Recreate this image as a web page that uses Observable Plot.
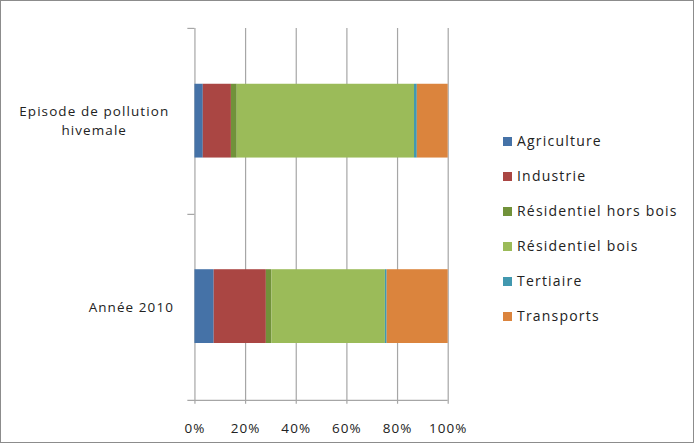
<!DOCTYPE html>
<html><head><meta charset="utf-8">
<script src="https://cdn.jsdelivr.net/npm/d3@7"></script>
<script src="https://cdn.jsdelivr.net/npm/@observablehq/plot@0.6"></script>
<style>
html,body{margin:0;padding:0;background:#fff;}
#wrap{position:relative;width:694px;height:443px;box-sizing:border-box;border:1px solid #8c8c8c;overflow:hidden;font-family:"Open Sans",sans-serif;}
#wrap svg{position:absolute;left:-1px;top:-1px;}
#legend{position:absolute;left:502px;top:130px;font-size:14px;color:#222;}
#legend .it{height:35px;display:flex;align-items:flex-start;letter-spacing:1.2px;}
#legend .sw{width:9px;height:9px;margin-right:5px;margin-top:6px;}
</style></head>
<body><div id="wrap"><div id="legend"></div></div>
<script>
const categories = ["Episode de pollution\nhivemale", "Année 2010"];
const sectors = ["Agriculture", "Industrie", "Résidentiel hors bois", "Résidentiel bois", "Tertiaire", "Transports"];
const colors = ["#4572a7", "#aa4643", "#71923a", "#9bbb59", "#4198af", "#db843d"];
const episodeValues = [3.3, 11.1, 2.3, 70.0, 1.1, 12.2];
const annee2010Values = [7.6, 20.6, 2.2, 44.8, 0.7, 24.1];
const xTicks = [0, 0.2, 0.4, 0.6, 0.8, 1.0];

const series = [episodeValues, annee2010Values];
const data = [];
categories.forEach((c, i) => sectors.forEach((s, j) => data.push({cat: c, sector: s, value: series[i][j] / 100})));

const gray = "#a6a6a6";
const H = 186.5; // half of plot frame height
const chart = Plot.plot({
  width: 694, height: 443,
  marginLeft: 195, marginRight: 245, marginTop: 28, marginBottom: 42,
  style: {fontFamily: "Open Sans, sans-serif", fontSize: "13.5px", color: "#222", background: "transparent", overflow: "visible", letterSpacing: "1.1px"},
  x: {domain: [0, 1], axis: null, label: null},
  y: {domain: categories, paddingInner: 0.6, paddingOuter: 0.3, axis: null, label: null},
  color: {domain: sectors, range: colors},
  marks: [
    Plot.ruleX(xTicks, {x: d => d, stroke: gray, strokeWidth: 1.2, insetBottom: -4}),
    Plot.ruleY([-H], {y: null, dy: -H, x1: -0.028, x2: 0, stroke: gray, strokeWidth: 1.2}),
    Plot.ruleY([0], {y: null, x1: -0.028, x2: 0, stroke: gray, strokeWidth: 1.2}),
    Plot.ruleY([H], {y: null, dy: H, x1: -0.028, x2: 1.0, stroke: gray, strokeWidth: 1.4}),
    Plot.barX(data, Plot.stackX({x: "value", y: "cat", fill: "sector", order: sectors})),
    Plot.axisX(xTicks, {tickSize: 0, tickPadding: 0, dy: 23, label: null, tickFormat: d => Math.round(d * 100) + "%", fill: "#222", fontSize: 13.5}),
    Plot.axisY([categories[0]], {tickSize: 0, label: null, textAnchor: "middle", dx: -92, dy: -2, lineHeight: 1.45, fill: "#222", fontSize: 13.5}),
    Plot.axisY([categories[1]], {tickSize: 0, label: null, textAnchor: "end", dx: -12, dy: 1, fill: "#222", fontSize: 13.5})
  ]
});
document.getElementById("wrap").appendChild(chart);

const legend = document.getElementById("legend");
sectors.forEach((s, i) => {
  const it = document.createElement("div");
  it.className = "it";
  it.innerHTML = `<span class="sw" style="background:${colors[i]}"></span><span>${s}</span>`;
  legend.appendChild(it);
});
</script></body></html>
